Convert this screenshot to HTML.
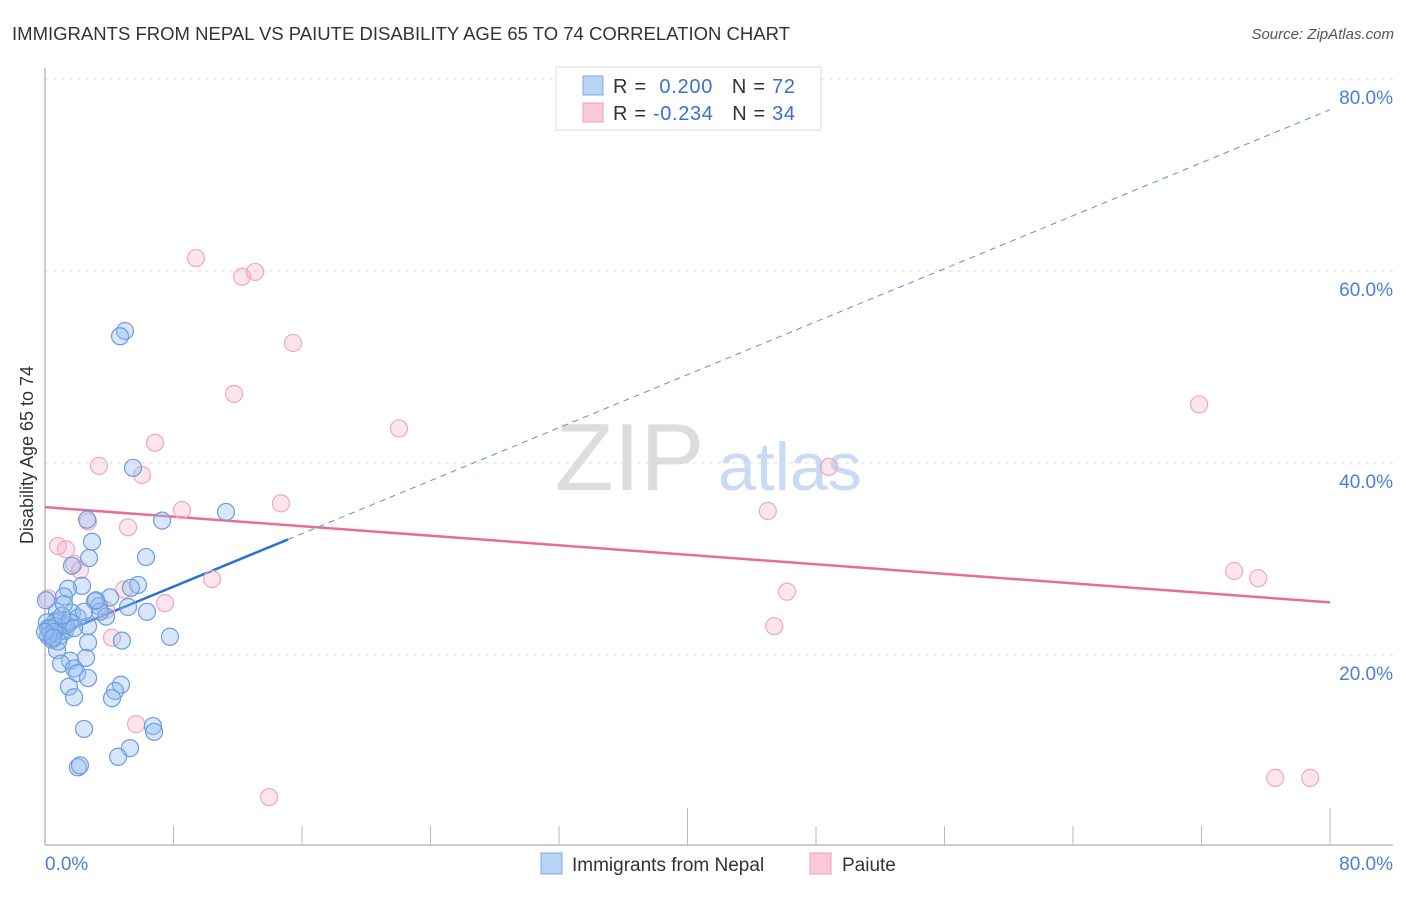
<!DOCTYPE html>
<html><head><meta charset="utf-8"><style>
body{margin:0;background:#fff;font-family:"Liberation Sans",sans-serif;}
svg text{font-family:"Liberation Sans",sans-serif;}
</style></head><body>
<svg width="1406" height="892" xmlns="http://www.w3.org/2000/svg">
<text x="12" y="40" font-size="18.5" fill="#333" textLength="778">IMMIGRANTS FROM NEPAL VS PAIUTE DISABILITY AGE 65 TO 74 CORRELATION CHART</text>
<text x="1394" y="39" font-size="15" fill="#555" text-anchor="end" font-style="italic">Source: ZipAtlas.com</text>
<text x="33" y="455" font-size="18" fill="#333" text-anchor="middle" transform="rotate(-90 33 455)">Disability Age 65 to 74</text>
<text x="555" y="490" font-size="96" fill="#ddd" font-family="Liberation Serif">ZIP</text>
<text x="718" y="490" font-size="68" fill="#c9daf3">atlas</text>
<g id="grid"></g><g id="axes"></g><g id="trend"></g><g id="pts"></g>
<g>
<rect x="556" y="67" width="265" height="63" fill="#fff" stroke="#ddd"/>
<rect x="583" y="76" width="20" height="19" fill="#b9d3f5" stroke="#7fa9e6"/>
<rect x="583" y="103" width="20" height="19" fill="#fbc9d8" stroke="#eca0b8"/>
<text x="613" y="93" font-size="20" fill="#333" textLength="182">R = <tspan fill="#3a70d0">&#160;0.200</tspan>&#160;&#160;&#160;N = <tspan fill="#3a70d0">72</tspan></text>
<text x="613" y="120" font-size="20" fill="#333" textLength="182">R = <tspan fill="#3a70d0">-0.234</tspan>&#160;&#160;&#160;N = <tspan fill="#3a70d0">34</tspan></text>
</g>
<g>
<rect x="541" y="853" width="21" height="21" fill="#b9d3f5" stroke="#7fa9e6"/>
<text x="572" y="871" font-size="19" fill="#333">Immigrants from Nepal</text>
<rect x="810" y="853" width="21" height="21" fill="#fbc9d8" stroke="#eca0b8"/>
<text x="842" y="871" font-size="19" fill="#333">Paiute</text>
</g>
</svg>
<script>
const yTicks=[20,40,60,80];
const yTickLabels=["20.0%","40.0%","60.0%","80.0%"];
const xTicks=[0,8,16,24,32,40,48,56,64,72,80];
const nepalX=[4.98,4.67,5.48,11.27,2.62,7.29,2.93,6.29,2.74,1.68,2.30,5.79,5.35,1.43,1.18,4.05,3.11,3.36,5.17,6.35,0.75,1.68,3.80,2.05,0.68,2.68,1.12,0.31,0.62,0.19,0.93,1.25,0.44,7.78,4.79,2.68,0.75,2.55,1.56,1.0,1.81,2.0,2.68,4.73,1.49,4.36,1.81,4.17,6.72,6.79,2.43,5.29,4.55,2.05,2.18,0.06,0.12,0.31,0.68,1.31,1.56,1.81,1.06,0.81,0.56,0.19,0,3.42,2.43,1.18,3.18,0.5];
const nepalY=[53.75,53.2,39.5,34.9,34.1,34.0,31.8,30.2,30.1,29.3,27.2,27.3,27.0,26.9,26.1,26.0,25.6,25.1,25.0,24.5,24.5,24.4,24.0,23.9,23.6,23.0,22.6,22.2,23.4,22.8,22.0,22.5,21.6,21.9,21.5,21.3,20.5,19.7,19.4,19.1,18.6,18.1,17.6,16.9,16.7,16.25,15.6,15.5,12.6,12.0,12.3,10.3,9.4,8.3,8.5,25.7,23.4,22.8,23.0,23.1,23.4,22.8,24.1,21.4,22.4,22.0,22.4,24.5,24.5,25.3,25.7,21.8];
const paiuteX=[9.40,12.27,13.08,15.44,11.77,22.04,6.85,3.36,6.04,14.69,8.53,2.68,5.17,0.81,1.31,1.81,2.18,10.40,4.92,7.47,0.19,4.17,46.2,45.4,45.0,48.8,71.85,74.03,75.53,76.59,78.77,5.67,13.95,3.80];
const paiuteY=[61.35,59.4,59.9,52.5,47.2,43.6,42.1,39.7,38.75,35.8,35.1,33.9,33.3,31.35,31.0,29.5,28.85,27.9,26.8,25.4,25.9,21.8,26.6,23.0,35.0,39.6,46.1,28.75,28.0,7.2,7.2,12.8,5.2,24.7];
const nepalTrend=[21.6,0.69,15.13];
const paiuteTrend=[35.4,-0.124];
const NS="http://www.w3.org/2000/svg";
const X=v=>45+v*1285/80, Y=v=>847-v*9.6;
function mk(t,a,p){const e=document.createElementNS(NS,t);for(const k in a)e.setAttribute(k,a[k]);document.getElementById(p).appendChild(e);return e;}
yTicks.forEach((t,i)=>{
 const g=mk('line',{x1:45,x2:1393,y1:Y(t),y2:Y(t),stroke:'#ddd','stroke-dasharray':'4,4'},'grid');
 
 
 const l=mk('text',{x:1393,y:Y(t)+25,'font-size':19,fill:'#4a7fd6','text-anchor':'end'},'grid');
 l.textContent=yTickLabels[i];
 
 
});
const ax=mk('line',{x1:45,x2:1393,y1:845,y2:845,stroke:'#bbb','stroke-width':1.5},'axes');


const ay=mk('line',{x1:45,x2:45,y1:68,y2:845,stroke:'#bbb','stroke-width':1.5},'axes');


xTicks.forEach(t=>{
 const tk=mk('line',{x1:X(t),x2:X(t),y1:(t==40||t==80)?808:826,y2:845,stroke:'#bbb'},'axes');
 
 
});
const x0=mk('text',{x:45,y:870,'font-size':19,fill:'#4a7fd6'},'axes');x0.textContent='0.0%';


const x1=mk('text',{x:1393,y:870,'font-size':19,fill:'#4a7fd6','text-anchor':'end'},'axes');x1.textContent='80.0%';


paiuteX.forEach((v,i)=>{
 const c=mk('circle',{cx:X(v),cy:Y(paiuteY[i]),r:8.5,fill:'rgba(246,170,195,0.3)',stroke:'#efa8bf','stroke-width':1.2},'pts');
 
 
});
nepalX.forEach((v,i)=>{
 const c=mk('circle',{cx:X(v),cy:Y(nepalY[i]),r:8.5,fill:'rgba(150,190,240,0.38)',stroke:'#6b9ce0','stroke-width':1.2},'pts');
 
 
});
const pt=mk('line',{x1:X(0),y1:Y(paiuteTrend[0]),x2:X(80),y2:Y(paiuteTrend[0]+paiuteTrend[1]*80),stroke:'#e86c98','stroke-width':2.5},'trend');


const bs=mk('line',{x1:X(0),y1:Y(nepalTrend[0]),x2:X(nepalTrend[2]),y2:Y(nepalTrend[0]+nepalTrend[1]*nepalTrend[2]),stroke:'#2a6fd6','stroke-width':2.5},'trend');


const bd=mk('line',{x1:X(nepalTrend[2]),y1:Y(nepalTrend[0]+nepalTrend[1]*nepalTrend[2]),x2:X(80),y2:Y(nepalTrend[0]+nepalTrend[1]*80),stroke:'#5b8fdc','stroke-width':1,'stroke-dasharray':'6,5'},'trend');


</script>
</body></html>
